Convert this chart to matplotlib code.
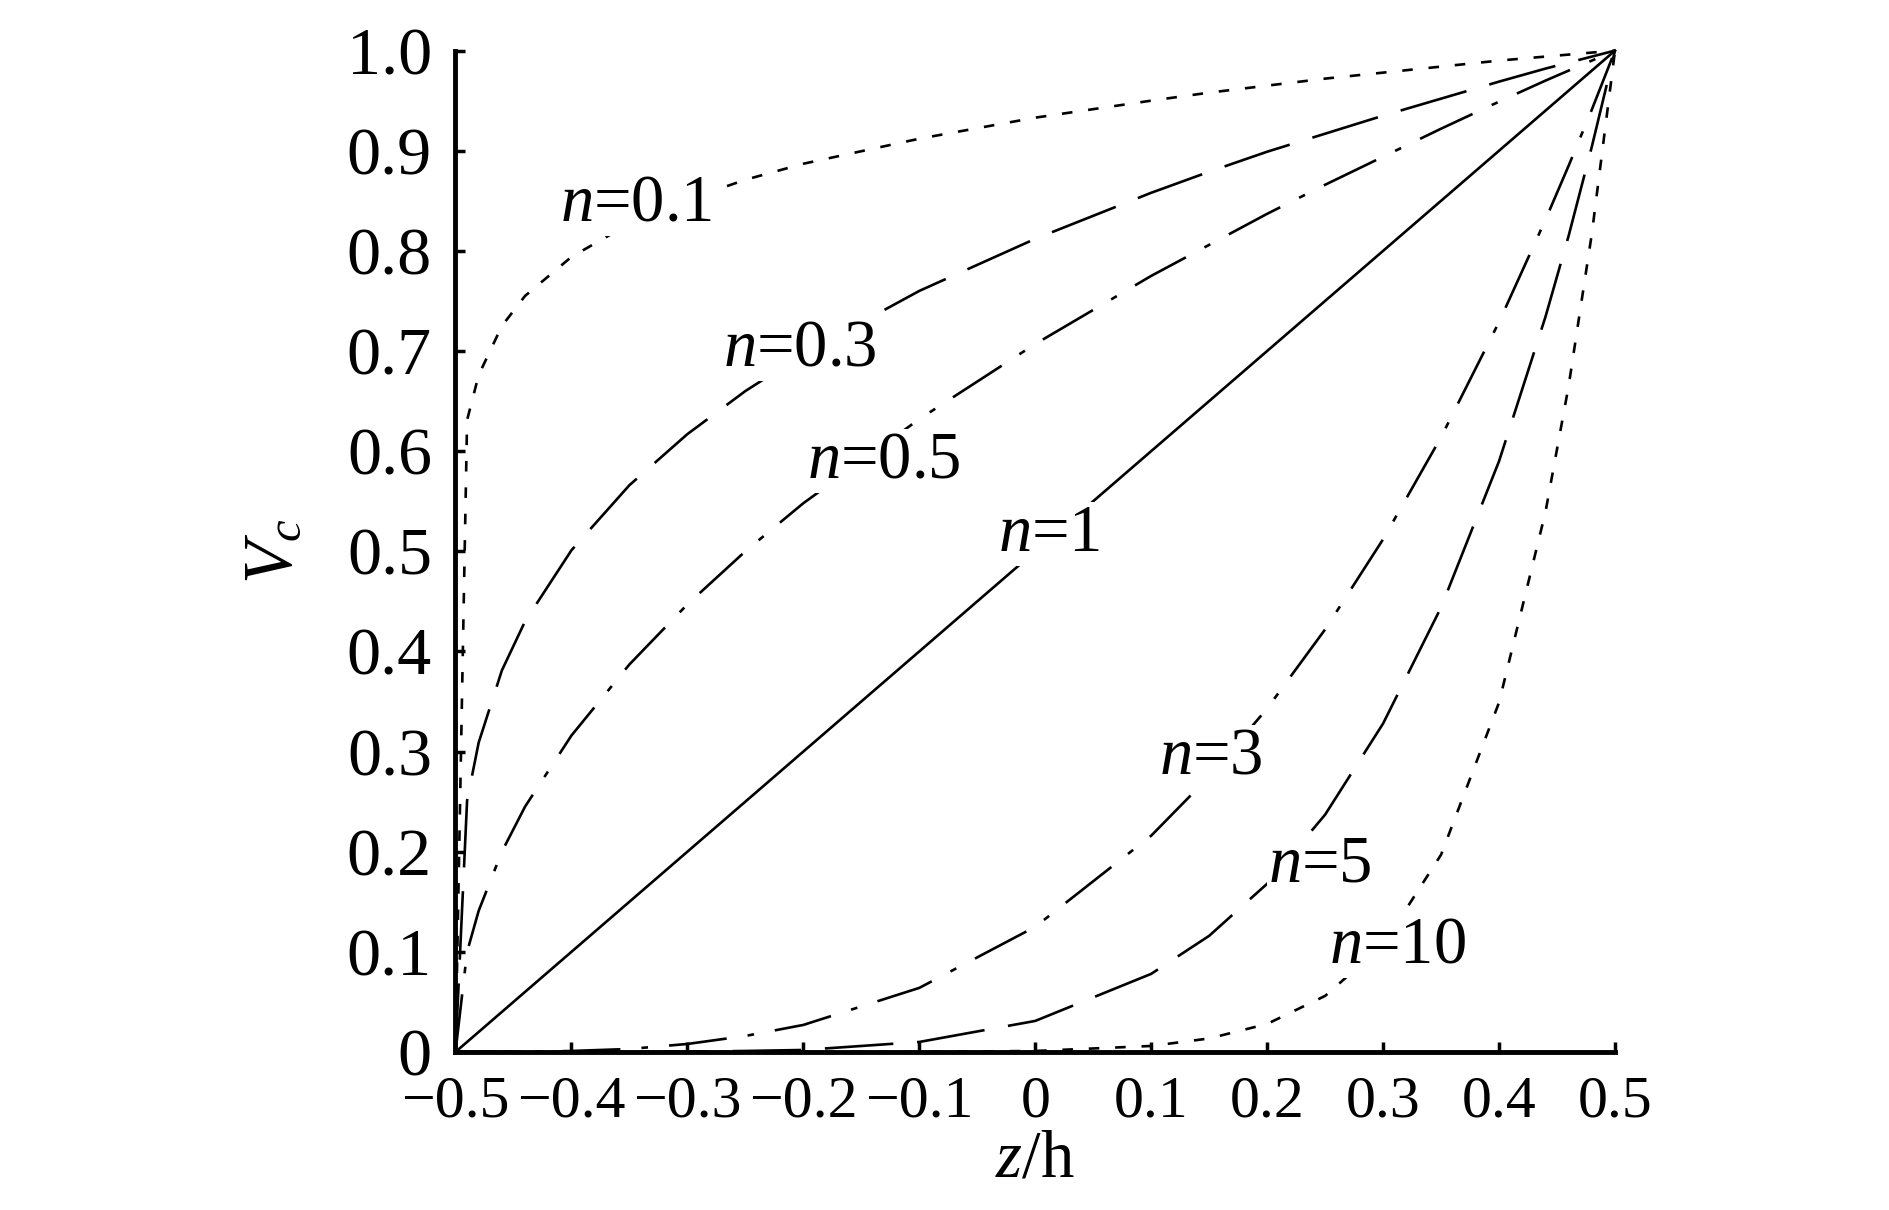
import matplotlib
matplotlib.use("Agg")
import matplotlib.pyplot as plt

plt.rcParams['font.family'] = ['Liberation Serif', 'DejaVu Serif']
plt.rcParams['mathtext.fontset'] = 'custom'
plt.rcParams['mathtext.rm'] = 'Liberation Serif'
plt.rcParams['mathtext.it'] = 'Liberation Serif:italic'

# z/h positions where the curves were read
z = [-0.5, -0.49, -0.48, -0.46, -0.44, -0.4, -0.35, -0.3, -0.25, -0.2,
     -0.1, 0.0, 0.1, 0.15, 0.2, 0.25, 0.3, 0.35, 0.4, 0.44, 0.46, 0.48, 0.5]

# Vc
vc_01 = [0, 0.631, 0.676, 0.725, 0.755, 0.794, 0.827, 0.851, 0.871, 0.887,
         0.912, 0.933, 0.950, 0.958, 0.965, 0.972, 0.978, 0.984, 0.990, 0.994, 0.996, 0.998, 1.0]
vc_03 = [0, 0.251, 0.309, 0.381, 0.430, 0.501, 0.566, 0.617, 0.660, 0.697,
         0.760, 0.812, 0.858, 0.879, 0.899, 0.917, 0.935, 0.952, 0.969, 0.982, 0.988, 0.994, 1.0]
vc_05 = [0, 0.100, 0.141, 0.200, 0.245, 0.316, 0.387, 0.447, 0.500, 0.548,
         0.632, 0.707, 0.775, 0.806, 0.837, 0.866, 0.894, 0.922, 0.949, 0.970, 0.980, 0.990, 1.0]
vc_1 = [0, 0.01, 0.02, 0.04, 0.06, 0.10, 0.15, 0.20, 0.25, 0.30,
        0.40, 0.50, 0.60, 0.65, 0.70, 0.75, 0.80, 0.85, 0.90, 0.94, 0.96, 0.98, 1.0]
vc_3 = [0, 0, 0, 0.0001, 0.0002, 0.001, 0.003, 0.008, 0.016, 0.027,
        0.064, 0.125, 0.216, 0.275, 0.343, 0.422, 0.512, 0.614, 0.729, 0.831, 0.885, 0.941, 1.0]
vc_5 = [0, 0, 0, 0, 0, 0, 0.0001, 0.0003, 0.001, 0.002,
        0.010, 0.031, 0.078, 0.116, 0.168, 0.237, 0.328, 0.444, 0.590, 0.734, 0.815, 0.904, 1.0]
vc_10 = [0, 0, 0, 0, 0, 0, 0, 0, 0, 0,
         0.0001, 0.001, 0.006, 0.0135, 0.028, 0.056, 0.107, 0.197, 0.349, 0.539, 0.665, 0.817, 1.0]

labels = ['0.1', '0.3', '0.5', '1', '3', '5', '10']
# label anchor points (left, centre) in data coords
label_x = [-0.41, -0.269, -0.197, -0.032, 0.107, 0.201, 0.253]
label_y = [0.847, 0.702, 0.590, 0.517, 0.295, 0.187, 0.106]

xticks = [-0.5, -0.4, -0.3, -0.2, -0.1, 0, 0.1, 0.2, 0.3, 0.4, 0.5]
xticklabels = ['\u22120.5', '\u22120.4', '\u22120.3', '\u22120.2', '\u22120.1', '0',
               '0.1', '0.2', '0.3', '0.4', '0.5']
yticks = [0, 0.1, 0.2, 0.3, 0.4, 0.5, 0.6, 0.7, 0.8, 0.9, 1.0]
yticklabels = ['0', '0.1', '0.2', '0.3', '0.4', '0.5', '0.6', '0.7', '0.8', '0.9', '1.0']

dotted = (0, (4, 6))
longdash = (0, (26, 9))
dashdot = (0, (22, 8, 2.5, 8))
styles = [dotted, longdash, dashdot, '-', dashdot, longdash, dotted]
series = [vc_01, vc_03, vc_05, vc_1, vc_3, vc_5, vc_10]

fig = plt.figure(figsize=(18.9, 12.1), dpi=100)
ax = fig.add_axes([0.241, 0.1306, 0.6135, 0.8276])

for vals, ls in zip(series, styles):
    ax.plot(z, vals, color='black', linestyle=ls, linewidth=1.9, clip_on=False)

# white box behind each label breaks the curve like in the original
for lab, lx, ly in zip(labels, label_x, label_y):
    ax.text(lx, ly, r'$n$=' + lab, fontsize=48, ha='left', va='center',
            bbox=dict(facecolor='white', edgecolor='none', pad=1))

ax.set_xlim(-0.5, 0.5)
ax.set_ylim(0, 1)
ax.spines['top'].set_visible(False)
ax.spines['right'].set_visible(False)
ax.spines['left'].set_linewidth(3.5)
ax.spines['bottom'].set_linewidth(3.5)
ax.set_xticks(xticks)
ax.set_xticklabels(xticklabels)
ax.set_yticks(yticks)
ax.set_yticklabels(yticklabels)
ax.tick_params(direction='in', length=7, width=2.5)
ax.tick_params(axis='x', labelsize=43, pad=17)
ax.tick_params(axis='y', labelsize=49, pad=17)

ax.set_xlabel(r'$z$/h', fontsize=48, labelpad=0)
ax.set_ylabel(r'$V_c$', fontsize=50, labelpad=29)

fig.savefig('out.png', dpi=100)
